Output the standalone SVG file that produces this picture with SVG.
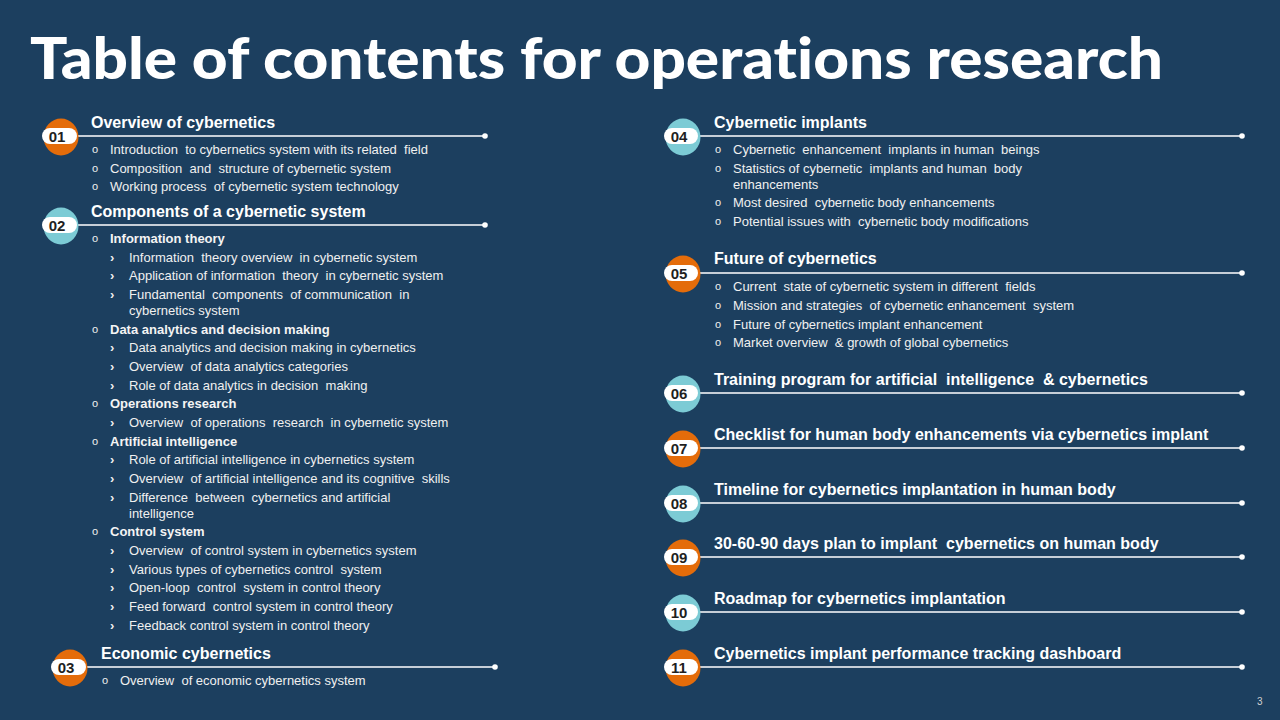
<svg xmlns="http://www.w3.org/2000/svg" width="1280" height="720" viewBox="0 0 1280 720">
<defs>
<style>
.bg{fill:#1c3f5f}
.title{font-family:Lato,"Liberation Sans",sans-serif;font-weight:900;font-size:58px;fill:#ffffff;font-variant-ligatures:none;font-feature-settings:"liga" 0,"clig" 0,"dlig" 0,"calt" 0}
.h{font-family:"Liberation Sans",Arial,sans-serif;font-weight:bold;font-size:16px;fill:#ffffff;white-space:pre}
.t{font-family:"Liberation Sans",Arial,sans-serif;font-size:13px;fill:#f0f0f0;white-space:pre}
.tb{font-family:"Liberation Sans",Arial,sans-serif;font-size:13px;font-weight:bold;fill:#f4f4f4}
.bo{font-family:"Liberation Sans",Arial,sans-serif;font-size:11px;fill:#f0f0f0}
.bc{font-family:"Liberation Sans",Arial,sans-serif;font-size:13px;font-weight:bold;fill:#f0f0f0}
.num{font-family:"Liberation Sans",Arial,sans-serif;font-weight:bold;font-size:15px;fill:#1f1f1f;text-anchor:middle}
.or{fill:#e46c0a}
.te{fill:#7ccbd5}
.pill{fill:#ffffff}
.ln{stroke:#ffffff;stroke-width:1.5;fill:none}
.dot{fill:#ffffff}
.pg{font-family:"Liberation Sans",Arial,sans-serif;font-size:10px;fill:#d0d0d0}
</style>
</defs>
<rect class="bg" x="0" y="0" width="1280" height="720"/>
<text class="title" x="30" y="79" textLength="1133" lengthAdjust="spacingAndGlyphs">Table of contents for operat&#8204;ions research</text>

<g id="connectors">
<line class="ln" x1="76" y1="136" x2="485" y2="136"/><circle class="dot" cx="485" cy="136" r="2.8"/>
<line class="ln" x1="76" y1="225" x2="485" y2="225"/><circle class="dot" cx="485" cy="225" r="2.8"/>
<line class="ln" x1="86" y1="667" x2="495" y2="667"/><circle class="dot" cx="495" cy="667" r="2.8"/>
<line class="ln" x1="698" y1="136" x2="1242" y2="136"/><circle class="dot" cx="1242" cy="136" r="2.8"/>
<line class="ln" x1="698" y1="273" x2="1242" y2="273"/><circle class="dot" cx="1242" cy="273" r="2.8"/>
<line class="ln" x1="698" y1="393" x2="1242" y2="393"/><circle class="dot" cx="1242" cy="393" r="2.8"/>
<line class="ln" x1="698" y1="448" x2="1242" y2="448"/><circle class="dot" cx="1242" cy="448" r="2.8"/>
<line class="ln" x1="698" y1="503" x2="1242" y2="503"/><circle class="dot" cx="1242" cy="503" r="2.8"/>
<line class="ln" x1="698" y1="557" x2="1242" y2="557"/><circle class="dot" cx="1242" cy="557" r="2.8"/>
<line class="ln" x1="698" y1="612" x2="1242" y2="612"/><circle class="dot" cx="1242" cy="612" r="2.8"/>
<line class="ln" x1="698" y1="667" x2="1242" y2="667"/><circle class="dot" cx="1242" cy="667" r="2.8"/>
</g>

<g id="s01">
<ellipse class="or" cx="61" cy="137" rx="17.5" ry="18.5"/>
<rect class="pill" x="42" y="128" width="35" height="16" rx="8"/>
<text class="num" x="57" y="142">01</text>
<text class="h" x="91" y="128">Overview of cybernetics</text>
<text class="bo" x="92" y="153">o</text><text class="t" x="110" y="153.5">Introduction  to cybernetics system with its related  field</text>
<text class="bo" x="92" y="172">o</text><text class="t" x="110" y="172.5">Composition  and  structure of cybernetic system</text>
<text class="bo" x="92" y="190">o</text><text class="t" x="110" y="190.5">Working process  of cybernetic system technology</text>
</g>

<g id="s02">
<ellipse class="te" cx="61" cy="226" rx="17.5" ry="18.5"/>
<rect class="pill" x="42" y="217" width="35" height="16" rx="8"/>
<text class="num" x="57" y="231">02</text>
<text class="h" x="91" y="217">Components of a cybernetic system</text>
<text class="bo" x="92" y="242">o</text><text class="tb" x="110" y="242.5">Information theory</text>
<text class="bc" x="110" y="261.5">›</text><text class="t" x="129" y="261.5">Information  theory overview  in cybernetic system</text>
<text class="bc" x="110" y="279.5">›</text><text class="t" x="129" y="279.5">Application of information  theory  in cybernetic system</text>
<text class="bc" x="110" y="298.5">›</text><text class="t" x="129" y="298.5">Fundamental  components  of communication  in</text>
<text class="t" x="129" y="314.5">cybernetics system</text>
<text class="bo" x="92" y="333">o</text><text class="tb" x="110" y="333.5">Data analytics and decision making</text>
<text class="bc" x="110" y="351.5">›</text><text class="t" x="129" y="351.5">Data analytics and decision making in cybernetics</text>
<text class="bc" x="110" y="370.5">›</text><text class="t" x="129" y="370.5">Overview  of data analytics categories</text>
<text class="bc" x="110" y="389.5">›</text><text class="t" x="129" y="389.5">Role of data analytics in decision  making</text>
<text class="bo" x="92" y="407">o</text><text class="tb" x="110" y="407.5">Operations research</text>
<text class="bc" x="110" y="426.5">›</text><text class="t" x="129" y="426.5">Overview  of operations  research  in cybernetic system</text>
<text class="bo" x="92" y="445">o</text><text class="tb" x="110" y="445.5">Artificial intelligence</text>
<text class="bc" x="110" y="463.5">›</text><text class="t" x="129" y="463.5">Role of artificial intelligence in cybernetics system</text>
<text class="bc" x="110" y="482.5">›</text><text class="t" x="129" y="482.5">Overview  of artificial intelligence and its cognitive  skills</text>
<text class="bc" x="110" y="501.5">›</text><text class="t" x="129" y="501.5">Difference  between  cybernetics and artificial</text>
<text class="t" x="129" y="517.5">intelligence</text>
<text class="bo" x="92" y="535">o</text><text class="tb" x="110" y="535.5">Control system</text>
<text class="bc" x="110" y="554.5">›</text><text class="t" x="129" y="554.5">Overview  of control system in cybernetics system</text>
<text class="bc" x="110" y="573.5">›</text><text class="t" x="129" y="573.5">Various types of cybernetics control  system</text>
<text class="bc" x="110" y="591.5">›</text><text class="t" x="129" y="591.5">Open-loop  control  system in control theory</text>
<text class="bc" x="110" y="610.5">›</text><text class="t" x="129" y="610.5">Feed forward  control system in control theory</text>
<text class="bc" x="110" y="629.5">›</text><text class="t" x="129" y="629.5">Feedback control system in control theory</text>
</g>

<g id="s03">
<ellipse class="or" cx="70" cy="668" rx="17.5" ry="18.5"/>
<rect class="pill" x="51" y="659" width="35" height="16" rx="8"/>
<text class="num" x="66" y="673">03</text>
<text class="h" x="101" y="659">Economic cybernetics</text>
<text class="bo" x="102" y="684">o</text><text class="t" x="120" y="684.5">Overview  of economic cybernetics system</text>
</g>

<g id="s04">
<ellipse class="te" cx="683" cy="137" rx="17.5" ry="18.5"/>
<rect class="pill" x="664" y="128" width="34" height="16" rx="8"/>
<text class="num" x="679" y="142">04</text>
<text class="h" x="714" y="128">Cybernetic implants</text>
<text class="bo" x="715" y="153">o</text><text class="t" x="733" y="153.5">Cybernetic  enhancement  implants in human  beings</text>
<text class="bo" x="715" y="172">o</text><text class="t" x="733" y="172.5">Statistics of cybernetic  implants and human  body</text>
<text class="t" x="733" y="188.5">enhancements</text>
<text class="bo" x="715" y="206">o</text><text class="t" x="733" y="206.5">Most desired  cybernetic body enhancements</text>
<text class="bo" x="715" y="225">o</text><text class="t" x="733" y="225.5">Potential issues with  cybernetic body modifications</text>
</g>

<g id="s05">
<ellipse class="or" cx="683" cy="274" rx="17.5" ry="18.5"/>
<rect class="pill" x="664" y="265" width="34" height="16" rx="8"/>
<text class="num" x="679" y="279">05</text>
<text class="h" x="714" y="264">Future of cybernetics</text>
<text class="bo" x="715" y="290">o</text><text class="t" x="733" y="290.5">Current  state of cybernetic system in different  fields</text>
<text class="bo" x="715" y="309">o</text><text class="t" x="733" y="309.5">Mission and strategies  of cybernetic enhancement  system</text>
<text class="bo" x="715" y="328">o</text><text class="t" x="733" y="328.5">Future of cybernetics implant enhancement</text>
<text class="bo" x="715" y="346">o</text><text class="t" x="733" y="346.5">Market overview  &amp; growth of global cybernetics</text>
</g>

<g id="s06">
<ellipse class="te" cx="683" cy="394" rx="17.5" ry="18.5"/>
<rect class="pill" x="664" y="385" width="34" height="16" rx="8"/>
<text class="num" x="679" y="399">06</text>
<text class="h" x="714" y="385">Training program for artificial  intelligence  &amp; cybernetics</text>
</g>

<g id="s07">
<ellipse class="or" cx="683" cy="449" rx="17.5" ry="18.5"/>
<rect class="pill" x="664" y="440" width="34" height="16" rx="8"/>
<text class="num" x="679" y="454">07</text>
<text class="h" x="714" y="440">Checklist for human body enhancements via cybernetics implant</text>
</g>

<g id="s08">
<ellipse class="te" cx="683" cy="504" rx="17.5" ry="18.5"/>
<rect class="pill" x="664" y="495" width="34" height="16" rx="8"/>
<text class="num" x="679" y="509">08</text>
<text class="h" x="714" y="495">Timeline for cybernetics implantation in human body</text>
</g>

<g id="s09">
<ellipse class="or" cx="683" cy="558" rx="17.5" ry="18.5"/>
<rect class="pill" x="664" y="549" width="34" height="16" rx="8"/>
<text class="num" x="679" y="563">09</text>
<text class="h" x="714" y="549">30-60-90 days plan to implant  cybernetics on human body</text>
</g>

<g id="s10">
<ellipse class="te" cx="683" cy="613" rx="17.5" ry="18.5"/>
<rect class="pill" x="664" y="604" width="34" height="16" rx="8"/>
<text class="num" x="679" y="618">10</text>
<text class="h" x="714" y="604">Roadmap for cybernetics implantation</text>
</g>

<g id="s11">
<ellipse class="or" cx="683" cy="668" rx="17.5" ry="18.5"/>
<rect class="pill" x="664" y="659" width="34" height="16" rx="8"/>
<text class="num" x="679" y="673">11</text>
<text class="h" x="714" y="659">Cybernetics implant performance tracking dashboard</text>
</g>

<text class="pg" x="1257" y="705">3</text>
</svg>
